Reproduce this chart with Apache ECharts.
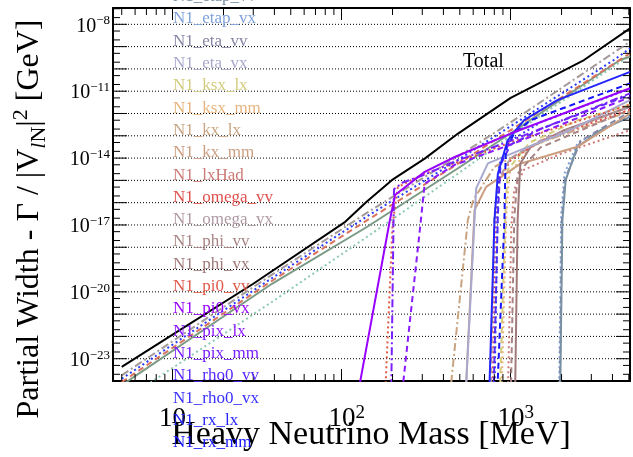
<!DOCTYPE html>
<html><head><meta charset="utf-8"><title>Heavy neutrino partial widths</title>
<script src="https://cdn.jsdelivr.net/npm/echarts@6/dist/echarts.min.js"></script>
<style>html,body{margin:0;padding:0;background:#fff;}#chart{width:633px;height:457px;}</style>
</head><body><div id="chart"></div>
<script>
// ---------------- DATA: [heavy neutrino mass (MeV), partial width / |V|^2 (GeV)] ----------------
const legendLabels = ['N1_etap_vv','N1_etap_vx','N1_eta_vv','N1_eta_vx','N1_ksx_lx','N1_ksx_mm','N1_kx_lx','N1_kx_mm','N1_lxHad','N1_omega_vv','N1_omega_vx','N1_phi_vv','N1_phi_vx','N1_pi0_vv','N1_pi0_vx','N1_pix_lx','N1_pix_mm','N1_rho0_vv','N1_rho0_vx','N1_rx_lx','N1_rx_mm'];
const xTickValues = [10, 100, 1000];
const yLabelExponents = [-8, -11, -14, -17, -20, -23];

const total     = [[5,4.3e-24],[10,1.2e-22],[30,2.3e-20],[105,1.38e-17],[140,1.07e-16],[198,1.02e-15],[310,9.5e-15],[488,1.26e-13],[1000,5.0e-12],[2716,2.5e-10],[5080,6.6e-9]];
const lepGray   = [[5,1.8e-24],[37,4.7e-20],[141,3.5e-17],[488,1.2e-14],[1000,4.0e-13],[5080,1.66e-9]];
const lepBlue   = [[5,1.26e-24],[37,3.3e-20],[141,2.4e-17],[488,8.3e-15],[1000,2.7e-13],[4074,2.5e-10],[5080,8.3e-10]];
const lepRed    = [[5,8.9e-25],[37,2.5e-20],[141,1.6e-17],[488,5.6e-15],[1000,1.8e-13],[5080,5.0e-10]];
const lepGreen  = [[5,6.5e-25],[38.7,2.3e-20],[141,8.1e-18],[488,3.5e-15],[1000,1.3e-13],[4436,2.5e-10],[5080,3.5e-10]];
const lepTeal   = [[5,1.05e-25],[8,1.26e-24],[37,2.8e-21],[141,2.9e-18],[488,2.0e-15],[1000,1.0e-13],[5080,4.0e-10]];
const pi0_vx    = [[125,2.8e-25],[193,1.66e-17],[207,2.2e-16],[310,2.4e-15],[467,1.12e-14],[1000,1.26e-13],[5080,1.35e-11]];
const pix_lx    = [[225,1.2e-25],[290,5.8e-18],[310,7.2e-16],[467,5.0e-15],[1000,4.0e-14],[5080,5.4e-12]];
const pix_mm    = [[196,1e-25],[204,4e-16],[230,8e-16],[310,1.8e-15],[467,7.0e-15],[1000,6.0e-14],[5080,8.0e-12]];
const rx_lx     = [[745,1.6e-25],[802,1.66e-17],[840,2.0e-15],[960,6.3e-14],[1200,5.0e-13],[1890,4.0e-12],[5080,7.4e-11]];
const rx_mm     = [[830,1.6e-25],[918,1.66e-17],[935,2.5e-14],[1050,1.26e-13],[1312,5.0e-13],[5080,2.24e-11]];
const rho0_vv   = [[790,1e-25],[840,3e-17],[870,5e-15],[1000,4e-14],[1500,2e-13],[5080,7e-12]];
const rho0_vx   = [[800,1e-25],[835,2e-17],[855,5e-15],[1000,6e-14],[1500,4e-13],[5080,1.3e-11]];
const eta_vx    = [[540,1.6e-25],[611,1.66e-17],[625,4.4e-16],[733,5.75e-15],[1146,2.34e-14],[2254,1.78e-13],[5080,4.0e-12]];
const kx_mm     = [[540,1.6e-25],[611,4.7e-17],[716,5.1e-16],[1151,5.75e-15],[2477,3.2e-14],[5080,1.0e-12]];
const kx_lx     = [[435,1.6e-25],[558,1.66e-17],[600,1.3e-16],[800,4e-15],[1500,5e-14],[5080,1.26e-12]];
const ksx_mm    = [[880,1e-25],[940,2e-17],[980,2e-15],[1300,3e-14],[2500,2.5e-13],[5080,2e-12]];
const ksx_lx    = [[860,1e-25],[930,3e-17],[960,3e-15],[1300,5e-14],[2500,5e-13],[5080,2.5e-12]];
const phi_vx    = [[1060,1e-25],[1099,1.66e-17],[1140,5.75e-15],[1312,3.16e-14],[2070,1.78e-13],[5080,2.0e-12]];
const phi_vv    = [[1000,1e-25],[1050,2e-17],[1100,2e-15],[1500,3e-14],[5080,1.5e-12]];
const etap_vv   = [[1960,1e-25],[2023,1.66e-17],[2115,1.02e-15],[2477,3.16e-14],[3396,1.78e-13],[5080,7e-13]];
const etap_vx   = [[1930,1e-25],[1990,3e-17],[2080,2e-15],[2500,5e-14],[5080,8e-13]];
const eta_vv    = [[1950,1e-25],[2010,2e-17],[2100,1.2e-15],[2600,6e-14],[5080,1.2e-12]];
const lxHad     = [[960,1e-25],[1010,1e-17],[1050,4e-16],[1200,3e-15],[2000,1.6e-14],[5080,1.8e-13]];
const omega_vv  = [[780,1e-25],[810,1e-17],[850,1e-15],[1000,8e-15],[1500,6e-14],[5080,1.5e-12]];
const omega_vx  = [[760,1e-25],[800,2e-17],[840,1e-15],[1000,1e-14],[1600,8e-14],[5080,2e-12]];
const pi0_vv    = [[180,1e-25],[200,1e-17],[215,5e-16],[310,2e-15],[467,6e-15],[1000,5e-14],[5080,2.5e-12]];

// ---------------- STYLES ----------------
const FONT = '"Liberation Serif", "Times New Roman", serif';
const X_MIN = 4.44, X_MAX = 5080, Y_MIN = 1e-24, Y_MAX = 5.4e-8;
const DASH = [6,4], DOT = [2,3], DASHDOT = [8,3,2,3];
const seriesStyle = {
  'Total':       {color:'#000000', type:'solid'},
  'lep_gray':    {color:'#a49a9a', type:DASHDOT},
  'lep_blue':    {color:'#2a3aff', type:DOT},
  'lep_red':     {color:'#d9735e', type:DASH},
  'lep_green':   {color:'#7a9a86', type:'solid'},
  'lep_teal':    {color:'#8ccab0', type:DOT},
  'N1_etap_vv':  {color:'#7890a4', type:'solid'},
  'N1_etap_vx':  {color:'#7fa2dc', type:DOT},
  'N1_eta_vv':   {color:'#8686a6', type:DASH},
  'N1_eta_vx':   {color:'#a9a9cf', type:'solid'},
  'N1_ksx_lx':   {color:'#d2cc7c', type:DASH},
  'N1_ksx_mm':   {color:'#e6b47c', type:DOT},
  'N1_kx_lx':    {color:'#c8a482', type:DASHDOT},
  'N1_kx_mm':    {color:'#cc9e80', type:'solid'},
  'N1_lxHad':    {color:'#cc7a76', type:DOT},
  'N1_omega_vv': {color:'#e0504e', type:DOT},
  'N1_omega_vx': {color:'#b09aa4', type:DASH},
  'N1_phi_vv':   {color:'#a88484', type:DASH},
  'N1_phi_vx':   {color:'#a07a7a', type:'solid'},
  'N1_pi0_vv':   {color:'#e05a4a', type:DOT},
  'N1_pi0_vx':   {color:'#9900ff', type:'solid'},
  'N1_pix_lx':   {color:'#8a1aff', type:DASH},
  'N1_pix_mm':   {color:'#7a20ff', type:DASHDOT},
  'N1_rho0_vv':  {color:'#5a28ff', type:DASH},
  'N1_rho0_vx':  {color:'#3a30ff', type:DOT},
  'N1_rx_lx':    {color:'#2424ff', type:'solid'},
  'N1_rx_mm':    {color:'#1414ff', type:DASH}
};
const seriesData = {
  'lep_teal': lepTeal, 'lep_green': lepGreen, 'lep_red': lepRed, 'lep_blue': lepBlue, 'lep_gray': lepGray,
  'N1_lxHad': lxHad, 'N1_etap_vx': etap_vx, 'N1_eta_vv': eta_vv, 'N1_etap_vv': etap_vv,
  'N1_ksx_lx': ksx_lx, 'N1_ksx_mm': ksx_mm, 'N1_kx_lx': kx_lx, 'N1_kx_mm': kx_mm,
  'N1_phi_vv': phi_vv, 'N1_phi_vx': phi_vx, 'N1_omega_vv': omega_vv, 'N1_omega_vx': omega_vx,
  'N1_eta_vx': eta_vx, 'N1_pi0_vv': pi0_vv, 'N1_rho0_vv': rho0_vv, 'N1_rho0_vx': rho0_vx,
  'N1_rx_mm': rx_mm, 'N1_pix_mm': pix_mm, 'N1_pix_lx': pix_lx, 'N1_rx_lx': rx_lx, 'N1_pi0_vx': pi0_vx,
  'Total': total
};

// axis decoration positions (ticks / grid)
const minorX = [];
[1,10,100,1000].forEach(d => [2,3,4,5,6,7,8,9].forEach(k => { const v = k*d; if (v > X_MIN && v < X_MAX) minorX.push([v, Y_MIN]); }));
const minorY = [];
for (let e = -24; e <= -8; e++) [2,5].forEach(k => { const v = k*Math.pow(10,e); if (v < Y_MAX) minorY.push([X_MIN, v]); });
const decadeY = [];
for (let e = -24; e <= -8; e++) decadeY.push([X_MIN, Math.pow(10, e), e]);

const lineSeries = Object.keys(seriesData).map(name => {
  const st = seriesStyle[name];
  return {
    name, type:'line', data: seriesData[name], showSymbol:false, symbol:'none', clip:true,
    lineStyle:{color: st.color, type: st.type, width: 2},
    z: name === 'Total' ? 4 : 3, silent:true, animation:false
  };
});

const tickStyle = {stroke:'#000', lineWidth:1};
const minorXSeries = {
  type:'custom', data: minorX, clip:false, silent:true, z:5,
  renderItem: (p, api) => {
    const v = api.value(0);
    const b = api.coord([v, Y_MIN]), t = api.coord([v, Y_MAX]);
    return {type:'group', children:[
      {type:'line', shape:{x1:b[0], y1:b[1], x2:b[0], y2:b[1]-7}, style:tickStyle},
      {type:'line', shape:{x1:t[0], y1:t[1], x2:t[0], y2:t[1]+7}, style:tickStyle}]};
  }
};
const minorYSeries = {
  type:'custom', data: minorY, clip:false, silent:true, z:5,
  renderItem: (p, api) => {
    const v = api.value(1);
    const l = api.coord([X_MIN, v]), r = api.coord([X_MAX, v]);
    return {type:'group', children:[
      {type:'line', shape:{x1:l[0], y1:l[1], x2:l[0]+7, y2:l[1]}, style:tickStyle},
      {type:'line', shape:{x1:r[0], y1:r[1], x2:r[0]-7, y2:r[1]}, style:tickStyle}]};
  }
};
const decadeYSeries = {
  type:'custom', data: decadeY, clip:false, silent:true, z:2,
  renderItem: (p, api) => {
    const v = api.value(1), e = api.value(2);
    const l = api.coord([X_MIN, v]), r = api.coord([X_MAX, v]);
    const ch = [
      {type:'line', shape:{x1:l[0], y1:l[1], x2:r[0], y2:r[1]}, style:{stroke:'#000', lineWidth:1, lineDash:[1,2]}},
      {type:'line', shape:{x1:l[0], y1:l[1], x2:l[0]+14, y2:l[1]}, style:tickStyle, z2:10},
      {type:'line', shape:{x1:r[0], y1:r[1], x2:r[0]-14, y2:r[1]}, style:tickStyle, z2:10}
    ];
    if (yLabelExponents.indexOf(e) >= 0) {
      ch.push({type:'text', x:l[0]-3, y:l[1]+2, style:{
        text:'{b|10}{s|\u2212' + Math.abs(e) + '}', align:'right', verticalAlign:'middle',
        rich:{ b:{fontSize:20, fontFamily:FONT, fill:'#000', lineHeight:24},
               s:{fontSize:13, fontFamily:FONT, fill:'#000', verticalAlign:'top', lineHeight:14} }}});
    }
    return {type:'group', children: ch};
  }
};

const axisLineStyle = {show:true, onZero:false, lineStyle:{color:'#000', width:2}};
const xAxisBase = {type:'log', logBase:10, min:X_MIN, max:X_MAX, axisLine:axisLineStyle,
  axisTick:{show:true, inside:true, length:12, lineStyle:{color:'#000', width:1}}, splitLine:{show:false}};
const yAxisBase = {type:'log', logBase:10, min:Y_MIN, max:Y_MAX, axisLine:axisLineStyle,
  axisTick:{show:false}, axisLabel:{show:false}, splitLine:{show:false}};

const legendGraphics = legendLabels.map((name, i) => ({
  type:'text', x:173, y:-3.3 + i*22.3, z:100, silent:true,
  style:{text:name, fill: seriesStyle[name].color, fontSize:17, fontFamily:FONT, verticalAlign:'middle', align:'left'}
}));

const option = {
  animation:false,
  backgroundColor:'#fff',
  grid:{left:113, right:0, top:8, bottom:76, containLabel:false},
  xAxis:[
    Object.assign({}, xAxisBase, {position:'bottom',
      axisLabel:{show:true, margin:23, color:'#000', fontFamily:FONT,
        formatter: v => {
          const l = Math.log10(v), r = Math.round(l);
          if (Math.abs(l - r) > 1e-6 || xTickValues.indexOf(Math.pow(10, r)) < 0) return '';
          return r === 1 ? '{b|10}' : '{bp|10}{s|' + r + '}';
        },
        rich:{ b:{fontSize:27, fontFamily:FONT, color:'#000', lineHeight:30},
               bp:{fontSize:27, fontFamily:FONT, color:'#000', lineHeight:30, padding:[0,0,0,10]},
               s:{fontSize:19, fontFamily:FONT, color:'#000', verticalAlign:'top', lineHeight:18} } }}),
    Object.assign({}, xAxisBase, {position:'top', axisLabel:{show:false}})
  ],
  yAxis:[
    Object.assign({}, yAxisBase, {position:'left'}),
    Object.assign({}, yAxisBase, {position:'right'})
  ],
  series: lineSeries.concat([decadeYSeries, minorXSeries, minorYSeries]),
  graphic:[
    {type:'text', x:371, y:435, z:100, silent:true,
      style:{text:'Heavy Neutrino Mass [MeV]', fill:'#000', fontSize:34, fontFamily:FONT, align:'center', verticalAlign:'middle'}},
    {type:'text', x:30, y:219, rotation:Math.PI/2, z:100, silent:true,
      style:{text:'{a|Partial Width - \u0393 / |V}{si|l}{sb|N}{a||}{sp|2}{a| [GeV]}', fill:'#000', align:'center', verticalAlign:'middle',
        rich:{ a:{fontSize:32, fontFamily:FONT, fill:'#000', lineHeight:40},
               si:{fontSize:22, fontFamily:FONT, fontStyle:'italic', fill:'#000', verticalAlign:'bottom', lineHeight:26},
               sb:{fontSize:22, fontFamily:FONT, fill:'#000', verticalAlign:'bottom', lineHeight:26},
               sp:{fontSize:22, fontFamily:FONT, fill:'#000', verticalAlign:'top', lineHeight:22} }}},
    {type:'text', x:463, y:62, z:100, silent:true,
      style:{text:'Total', fill:'#000', fontSize:20, fontFamily:FONT, align:'left', verticalAlign:'middle'}}
  ].concat(legendGraphics)
};

const chart = echarts.init(document.getElementById('chart'), null, {renderer:'canvas'});
chart.setOption(option);
</script>
</body></html>
